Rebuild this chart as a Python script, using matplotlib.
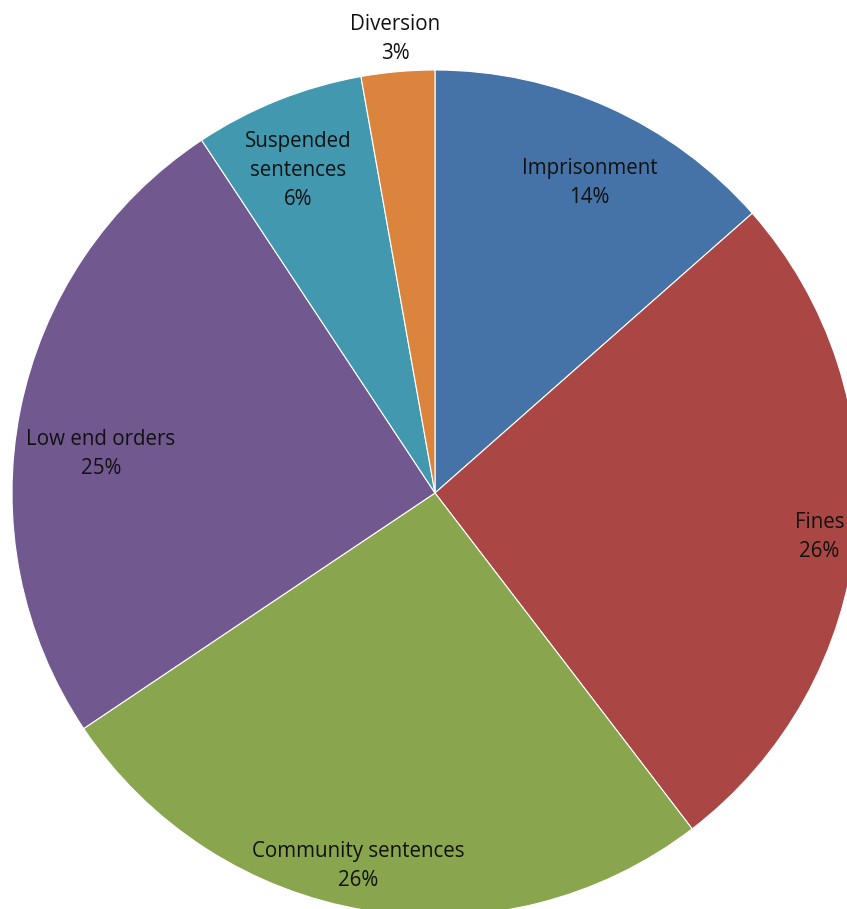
import numpy as np
import matplotlib
matplotlib.use('Agg')
import matplotlib.pyplot as plt

labels = ['Imprisonment', 'Fines', 'Community sentences', 'Low end orders',
          'Suspended\nsentences', 'Diversion']
values = [13.5, 26.1, 26.0, 25.1, 6.5, 2.8]
pct_text = ['14%', '26%', '26%', '25%', '6%', '3%']
colors = ['#4572A7', '#AA4643', '#89A54E', '#71588F', '#4198AF', '#DB843D']
# label distance from centre (fraction of radius), and angle nudge in degrees
label_dist = [0.82, 0.915, 0.90, 0.795, 0.827, 1.077]
label_nudge = [2.2, 1.0, 2.3, -4.6, -1.2, 0.0]

fig = plt.figure(figsize=(8.47, 9.09), dpi=100)
ax = fig.add_axes([0, 0, 1, 1])
# pie centre at (435, 493) px, radius 423 px
r_px = 423.0

wedges, _ = ax.pie(values, colors=colors, startangle=90, counterclock=False,
                   radius=1.0, wedgeprops=dict(edgecolor='white', linewidth=0.8))
ax.set_xlim(-435 / r_px, (847 - 435) / r_px)
ax.set_ylim(-(909 - 493) / r_px, 493 / r_px)
ax.set_aspect('auto')
ax.axis('off')

cum = np.cumsum([0] + values[:-1])
for i, w in enumerate(wedges):
    mid = cum[i] + values[i] / 2.0
    ang = np.deg2rad(90 - mid / 100.0 * 360) - np.deg2rad(label_nudge[i])
    x = label_dist[i] * np.cos(ang)
    y = label_dist[i] * np.sin(ang)
    ax.text(x, y, labels[i] + '\n' + pct_text[i], ha='center', va='center',
            fontsize=14.8, family='Open Sans', color='#111111', linespacing=1.5)

fig.savefig('out.png', dpi=100)
